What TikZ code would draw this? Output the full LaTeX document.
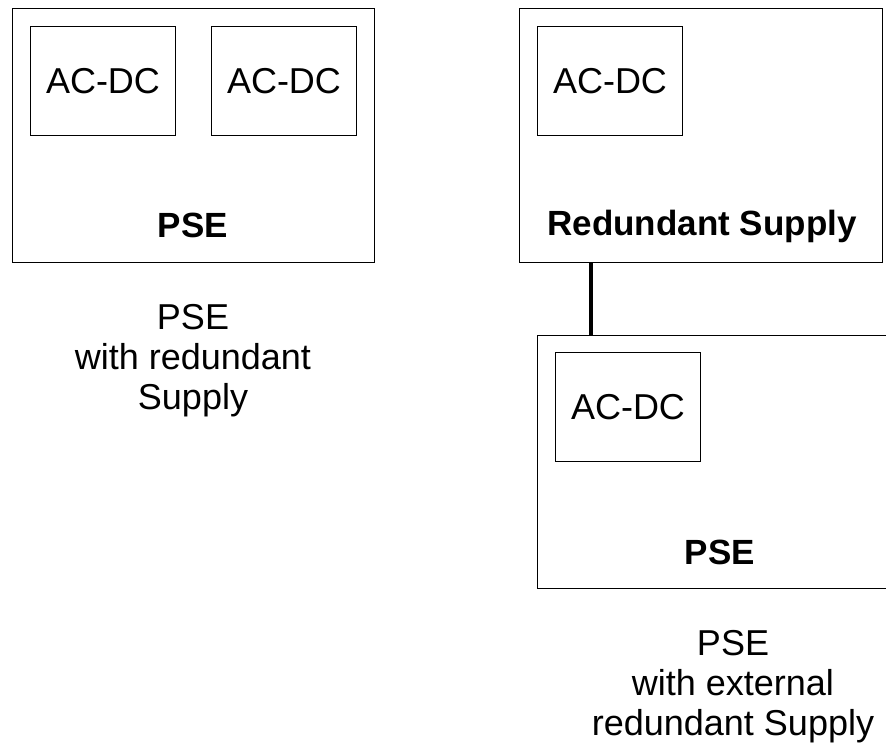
\documentclass[tikz,border=0pt]{standalone}
\usepackage{fontspec}
\setmainfont{Liberation Sans}
\begin{document}
\begin{tikzpicture}[x=1pt,y=-1pt,
  frame/.style={draw=black, line width=1pt, inner sep=0pt, anchor=north west},
  convbox/.style={frame, minimum width=145pt, minimum height=109pt,
    font=\fontsize{36}{40}\selectfont},
  boldlabel/.style={anchor=base, inner sep=0pt, font=\fontsize{35}{40}\selectfont\bfseries},
  caption/.style={anchor=base, inner sep=0pt, align=center, font=\fontsize{36}{40}\selectfont},
  link/.style={draw=black, line width=3.5pt}]
\useasboundingbox (0,0) rectangle (886,750);
% left: PSE with redundant supply
\node[frame, minimum width=362pt, minimum height=254pt] (pseA) at (12,8) {};
\node[convbox] (acA1) at (30,26) {AC-DC};
\node[convbox] (acA2) at (211,26) {AC-DC};
\node[boldlabel] (lblA) at (193,237) {PSE};
\node[caption] (capA) at (193,409) {PSE\\with redundant\\Supply};
% right top: redundant supply
\node[frame, minimum width=363pt, minimum height=254pt] (rs) at (519,8) {};
\node[convbox] (acR) at (537,26) {AC-DC};
\node[boldlabel] (lblR) at (702,235) {Redundant Supply};
% right bottom: PSE
\node[frame, minimum width=366pt, minimum height=253pt] (pseB) at (537,335) {};
\node[convbox] (acB) at (555,352) {AC-DC};
\node[boldlabel] (lblB) at (720,564) {PSE};
\node[caption] (capB) at (733,735) {PSE\\with external\\redundant Supply};
% connector
\coordinate (cx) at (591,0);
\draw[link] (rs.south -| cx) -- (pseB.north -| cx);
\end{tikzpicture}
\end{document}
